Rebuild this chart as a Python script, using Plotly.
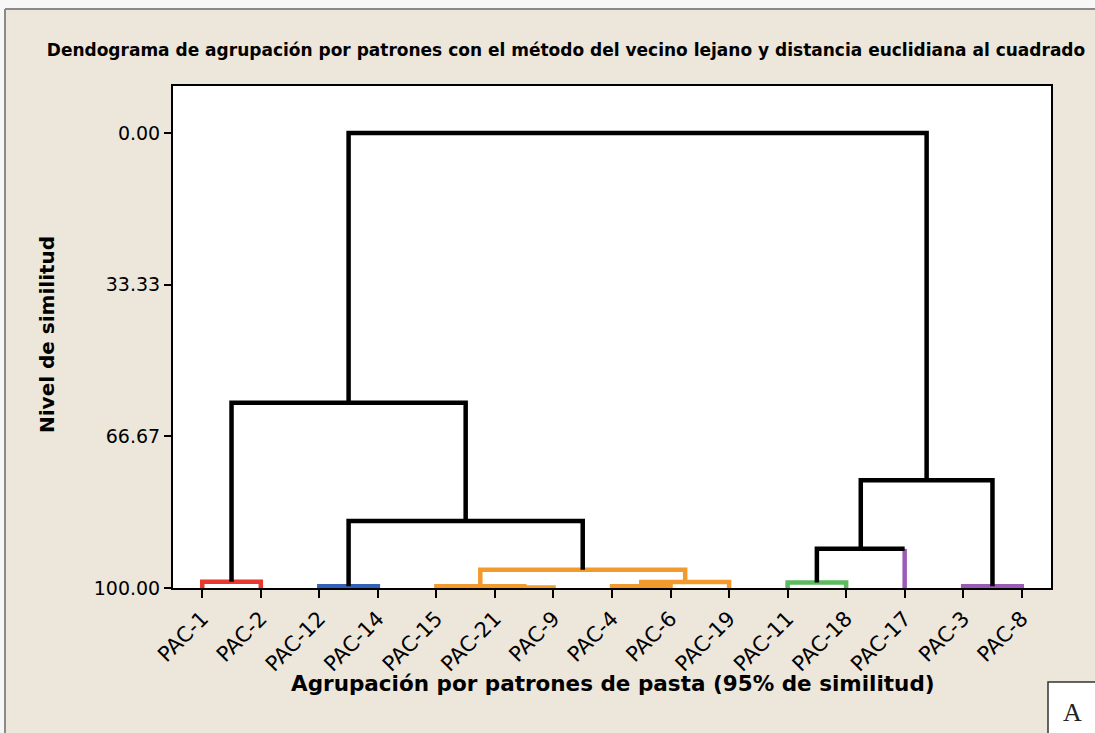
import plotly.graph_objects as go

# ---------------- data ----------------
leaf_labels = ["PAC-1", "PAC-2", "PAC-12", "PAC-14", "PAC-15", "PAC-21", "PAC-9",
               "PAC-4", "PAC-6", "PAC-19", "PAC-11", "PAC-18", "PAC-17", "PAC-3", "PAC-8"]
leaf_cluster_color = ["#e8382d", "#e8382d", "#3461b8", "#3461b8", "#f39a2c", "#f39a2c", "#f39a2c",
                      "#f39a2c", "#f39a2c", "#f39a2c", "#5bbb5f", "#5bbb5f", "#9a5cb6", "#9a5cb6", "#9a5cb6"]

# merges: (id, left child, right child, similarity level, link colour)
merge_ids    = ["m1", "m2", "m3", "m4", "m5", "m6", "m7", "m8", "m9", "m10", "m11", "m12", "m13", "m14"]
merge_left   = ["PAC-21", "PAC-12", "PAC-3", "PAC-4", "PAC-15", "PAC-11", "PAC-1", "m4", "m5", "m6", "m2", "m10", "m7", "m13"]
merge_right  = ["PAC-9", "PAC-14", "PAC-8", "PAC-6", "m1", "PAC-18", "PAC-2", "PAC-19", "m8", "PAC-17", "m9", "m3", "m11", "m12"]
merge_level  = [99.9, 99.6, 99.6, 99.6, 99.6, 98.8, 98.6, 98.7, 96.0, 91.4, 85.3, 76.3, 59.3, 0.0]
merge_color  = ["#f39a2c", "#3461b8", "#9a5cb6", "#f39a2c", "#f39a2c", "#5bbb5f", "#e8382d",
                "#f39a2c", "#f39a2c", "#000000", "#000000", "#000000", "#000000", "#000000"]

y_tick_vals = [0.0, 33.33, 66.67, 100.0]
y_tick_text = ["0.00", "33.33", "66.67", "100.00"]

title_text = "Dendograma de agrupación por patrones con el método del vecino lejano y distancia euclidiana al cuadrado"
x_title = "Agrupación por patrones de pasta (95% de similitud)"
y_title = "Nivel de similitud"

# ---------------- geometry of the tree (data units) ----------------
pos = {}
for i, lab in enumerate(leaf_labels):
    pos[lab] = (i + 1, 100.0, True, leaf_cluster_color[i])

segments = {}  # colour -> list of polylines


def add(col, pts):
    segments.setdefault(col, []).append(pts)


for mid, l, r, lev, col in zip(merge_ids, merge_left, merge_right, merge_level, merge_color):
    xl, hl, leafl, cl = pos[l]
    xr, hr, leafr, cr = pos[r]
    lcol = cl if (col == "#000000" and leafl) else col
    rcol = cr if (col == "#000000" and leafr) else col
    if lcol == col and rcol == col:
        add(col, [(xl, hl), (xl, lev), (xr, lev), (xr, hr)])
    else:
        main = [(xl, lev), (xr, lev)]
        if lcol == col:
            main = [(xl, hl)] + main
        else:
            add(lcol, [(xl, hl), (xl, lev)])
        if rcol == col:
            main = main + [(xr, hr)]
        else:
            add(rcol, [(xr, lev), (xr, hr)])
        add(col, main)
    pos[mid] = ((xl + xr) / 2.0, lev, False, col)

fig = go.Figure()
order = [c for c in segments if c != "#000000"] + ["#000000"]
for col in order:
    xs, ys = [], []
    for poly in segments[col]:
        for (a, b) in poly:
            xs.append(a)
            ys.append(b)
        xs.append(None)
        ys.append(None)
    fig.add_trace(go.Scatter(x=xs, y=ys, mode="lines",
                             line=dict(color=col, width=4.5),
                             hoverinfo="skip", showlegend=False, cliponaxis=False))

W, H = 1095, 733
L, R, T, B = 173, 44, 86, 145

BG = "#ece6db"

fig.update_layout(
    width=W, height=H,
    margin=dict(l=L, r=R, t=T, b=B),
    paper_bgcolor=BG,
    plot_bgcolor="#ffffff",
    font=dict(family="DejaVu Sans", color="#000000"),
    title=dict(text="<b>" + title_text + "</b>", x=566 / W, xref="container",
               xanchor="center", y=1 - 50 / H, yanchor="middle", yref="container",
               font=dict(family="DejaVu Sans", size=17, color="#000000")),
    xaxis=dict(range=[0.5, 15.5], tickmode="array",
               tickvals=list(range(1, len(leaf_labels) + 1)), ticktext=leaf_labels,
               tickangle=-45, ticks="outside", ticklen=8, tickwidth=1.5, tickcolor="#000",
               showgrid=False, zeroline=False, showline=True, linecolor="#000",
               linewidth=2, mirror=True,
               tickfont=dict(family="DejaVu Sans", size=21, color="#000")),
    yaxis=dict(range=[100, -10.3], tickmode="array", tickvals=y_tick_vals,
               ticktext=y_tick_text, ticks="outside", ticklen=7, tickwidth=1.5,
               tickcolor="#000", showgrid=False, zeroline=False, showline=True,
               linecolor="#000", linewidth=2, mirror=True,
               tickfont=dict(family="DejaVu Sans", size=19, color="#000")),
)

pw = W - L - R
ph = H - T - B


def px(xp):
    return (xp - L) / pw


def py(yp):
    return (H - B - yp) / ph


# outer frame: light strip outside and gray border line
fig.add_shape(type="rect", xref="paper", yref="paper", x0=px(-10), x1=px(W + 10),
              y0=py(9), y1=py(-10), fillcolor="#f7f7f7", line=dict(width=0))
fig.add_shape(type="rect", xref="paper", yref="paper", x0=px(-10), x1=px(5),
              y0=py(H + 10), y1=py(-10), fillcolor="#f7f7f7", line=dict(width=0))
fig.add_shape(type="line", xref="paper", yref="paper", x0=px(5), x1=px(W + 10),
              y0=py(9), y1=py(9), line=dict(color="#8a8a8a", width=2))
fig.add_shape(type="line", xref="paper", yref="paper", x0=px(5), x1=px(5),
              y0=py(9), y1=py(H + 10), line=dict(color="#8a8a8a", width=2))

# axis titles
fig.add_annotation(text="<b>" + y_title + "</b>", xref="paper", yref="paper",
                   x=px(47), y=py(335), textangle=-90, showarrow=False,
                   xanchor="center", yanchor="middle",
                   font=dict(family="DejaVu Sans", size=20, color="#000"))
fig.add_annotation(text="<b>" + x_title + "</b>", xref="paper", yref="paper",
                   x=px(613), y=py(683), showarrow=False,
                   xanchor="center", yanchor="middle",
                   font=dict(family="DejaVu Sans", size=21.5, color="#000"))

# "A" panel box
fig.add_shape(type="rect", xref="paper", yref="paper", x0=px(1048), x1=px(W + 10),
              y0=py(H + 10), y1=py(682), fillcolor="#ffffff",
              line=dict(color="#333333", width=1.5))
fig.add_annotation(text="A", xref="paper", yref="paper", x=px(1072), y=py(712),
                   showarrow=False, xanchor="center", yanchor="middle",
                   font=dict(family="Liberation Serif", size=26, color="#222"))

fig.write_html("out.html", config={"displayModeBar": False},
               post_script="document.body.style.margin='0';document.body.style.overflow='hidden';")
